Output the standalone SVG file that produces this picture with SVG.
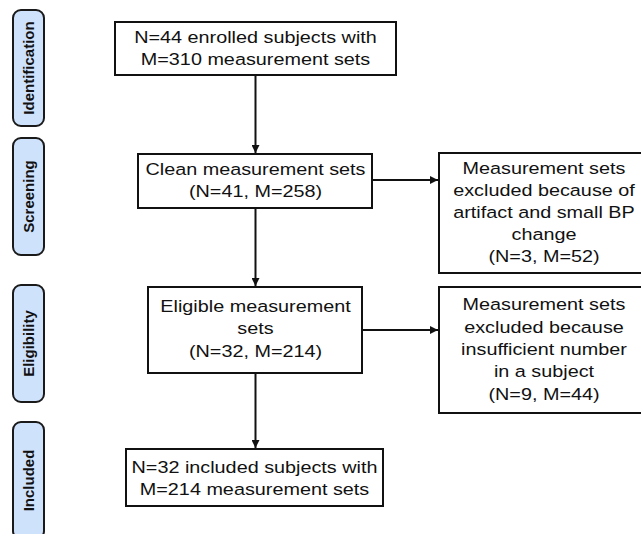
<svg xmlns="http://www.w3.org/2000/svg" width="641" height="534" viewBox="0 0 641 534">
<style>
.pill{fill:#cfe2fc;stroke:#1a1a1a;stroke-width:2}
.pt{font-family:"Liberation Sans",Arial,sans-serif;font-weight:bold;font-size:15px;fill:#111;text-anchor:middle}
.box{fill:#fff;stroke:#111;stroke-width:2}
.t{font-family:"Liberation Sans",Arial,sans-serif;font-size:16.5px;fill:#111;text-anchor:middle}
.c{stroke:#111;stroke-width:2;fill:none;marker-end:url(#ah)}
</style>
<defs>
<marker id="ah" viewBox="0 0 10 10" refX="10" refY="5" markerWidth="4" markerHeight="4" markerUnits="strokeWidth" orient="auto">
<path d="M0,0 L10,5 L0,10 z" fill="#111"/>
</marker>
</defs>
<rect width="641" height="534" fill="#fff"/>
<g id="phase-identification">
<rect class="pill" x="13" y="10" width="31" height="116" rx="8"/>
<text class="pt" transform="translate(34,68) rotate(-90)">Identification</text>
</g>
<g id="phase-screening">
<rect class="pill" x="13" y="138" width="31" height="117" rx="8"/>
<text class="pt" transform="translate(34,196.5) rotate(-90)">Screening</text>
</g>
<g id="phase-eligibility">
<rect class="pill" x="13" y="285" width="31" height="117" rx="8"/>
<text class="pt" transform="translate(34,343.5) rotate(-90)">Eligibility</text>
</g>
<g id="phase-included">
<rect class="pill" x="13" y="422" width="31" height="117" rx="8"/>
<text class="pt" transform="translate(34,480.5) rotate(-90)">Included</text>
</g>
<g id="connectors">
<line class="c" x1="255.5" y1="75" x2="255.5" y2="153"/>
<line class="c" x1="255.5" y1="208" x2="255.5" y2="286"/>
<line class="c" x1="255.5" y1="373" x2="255.5" y2="448"/>
<line class="c" x1="372" y1="180" x2="438" y2="180"/>
<line class="c" x1="362" y1="330" x2="438" y2="330"/>
</g>
<g id="enrolled">
<rect class="box" x="115" y="22" width="281" height="53"/>
<text class="t" transform="translate(255.5,0) scale(1.2,1)"><tspan x="0" y="43">N=44 enrolled subjects with</tspan><tspan x="0" y="65">M=310 measurement sets</tspan></text>
</g>
<g id="clean">
<rect class="box" x="138" y="154" width="234" height="54"/>
<text class="t" transform="translate(255.5,0) scale(1.2,1)"><tspan x="0" y="175">Clean measurement sets</tspan><tspan x="0" y="197">(N=41, M=258)</tspan></text>
</g>
<g id="excluded-artifact">
<rect class="box" x="439" y="153" width="212" height="120"/>
<text class="t" transform="translate(544,0) scale(1.2,1)"><tspan x="0" y="174">Measurement sets</tspan><tspan x="0" y="196">excluded because of</tspan><tspan x="0" y="218">artifact and small BP</tspan><tspan x="0" y="240">change</tspan><tspan x="0" y="262">(N=3, M=52)</tspan></text>
</g>
<g id="eligible">
<rect class="box" x="148" y="287" width="214" height="86"/>
<text class="t" transform="translate(255.5,0) scale(1.2,1)"><tspan x="0" y="312">Eligible measurement</tspan><tspan x="0" y="334">sets</tspan><tspan x="0" y="357">(N=32, M=214)</tspan></text>
</g>
<g id="excluded-insufficient">
<rect class="box" x="439" y="287" width="212" height="126"/>
<text class="t" transform="translate(544,0) scale(1.2,1)"><tspan x="0" y="310">Measurement sets</tspan><tspan x="0" y="333">excluded because</tspan><tspan x="0" y="355">insufficient number</tspan><tspan x="0" y="377">in a subject</tspan><tspan x="0" y="400">(N=9, M=44)</tspan></text>
</g>
<g id="included">
<rect class="box" x="126" y="449" width="257" height="57"/>
<text class="t" transform="translate(254.5,0) scale(1.2,1)"><tspan x="0" y="473">N=32 included subjects with</tspan><tspan x="0" y="495">M=214 measurement sets</tspan></text>
</g>
</svg>
